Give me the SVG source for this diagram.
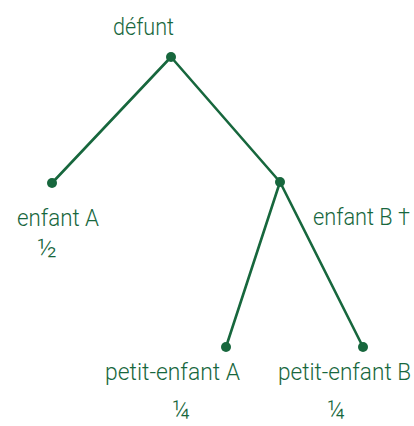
<svg xmlns="http://www.w3.org/2000/svg" width="414" height="426" viewBox="0 0 414 426">
<style>
.l{stroke:#17673d;stroke-width:2.6;fill:none;stroke-linecap:round}
.d{fill:#17673d}
text{font-family:Roboto,"Noto Sans",sans-serif;font-size:23px;font-weight:300;fill:#17673d}
.f{font-size:26px}
</style>
<rect width="414" height="426" fill="#fff"/>
<g id="connectors">
<line class="l" x1="171" y1="57" x2="52" y2="183"/>
<line class="l" x1="171" y1="57" x2="280" y2="182"/>
<line class="l" x1="280" y1="182" x2="226" y2="347"/>
<line class="l" x1="280" y1="182" x2="363" y2="347"/>
</g>
<g id="defunt">
<circle class="d" cx="171" cy="57" r="5"/>
<text x="113" y="35" textLength="61" lengthAdjust="spacingAndGlyphs">défunt</text>
</g>
<g id="enfantA">
<circle class="d" cx="52" cy="183" r="5"/>
<text x="17" y="226" textLength="82" lengthAdjust="spacingAndGlyphs">enfant A</text>
<text class="f" x="37" y="257" textLength="20" lengthAdjust="spacingAndGlyphs">½</text>
</g>
<g id="enfantB">
<circle class="d" cx="280" cy="182" r="5"/>
<text x="313" y="225" textLength="97" lengthAdjust="spacingAndGlyphs">enfant B †</text>
</g>
<g id="petitA">
<circle class="d" cx="226" cy="347" r="5"/>
<text x="105" y="380" textLength="135" lengthAdjust="spacingAndGlyphs">petit-enfant A</text>
<text class="f" x="172" y="419" textLength="18" lengthAdjust="spacingAndGlyphs">¼</text>
</g>
<g id="petitB">
<circle class="d" cx="363" cy="347" r="5"/>
<text x="278" y="380" textLength="133" lengthAdjust="spacingAndGlyphs">petit-enfant B</text>
<text class="f" x="327" y="419" textLength="18" lengthAdjust="spacingAndGlyphs">¼</text>
</g>
</svg>
